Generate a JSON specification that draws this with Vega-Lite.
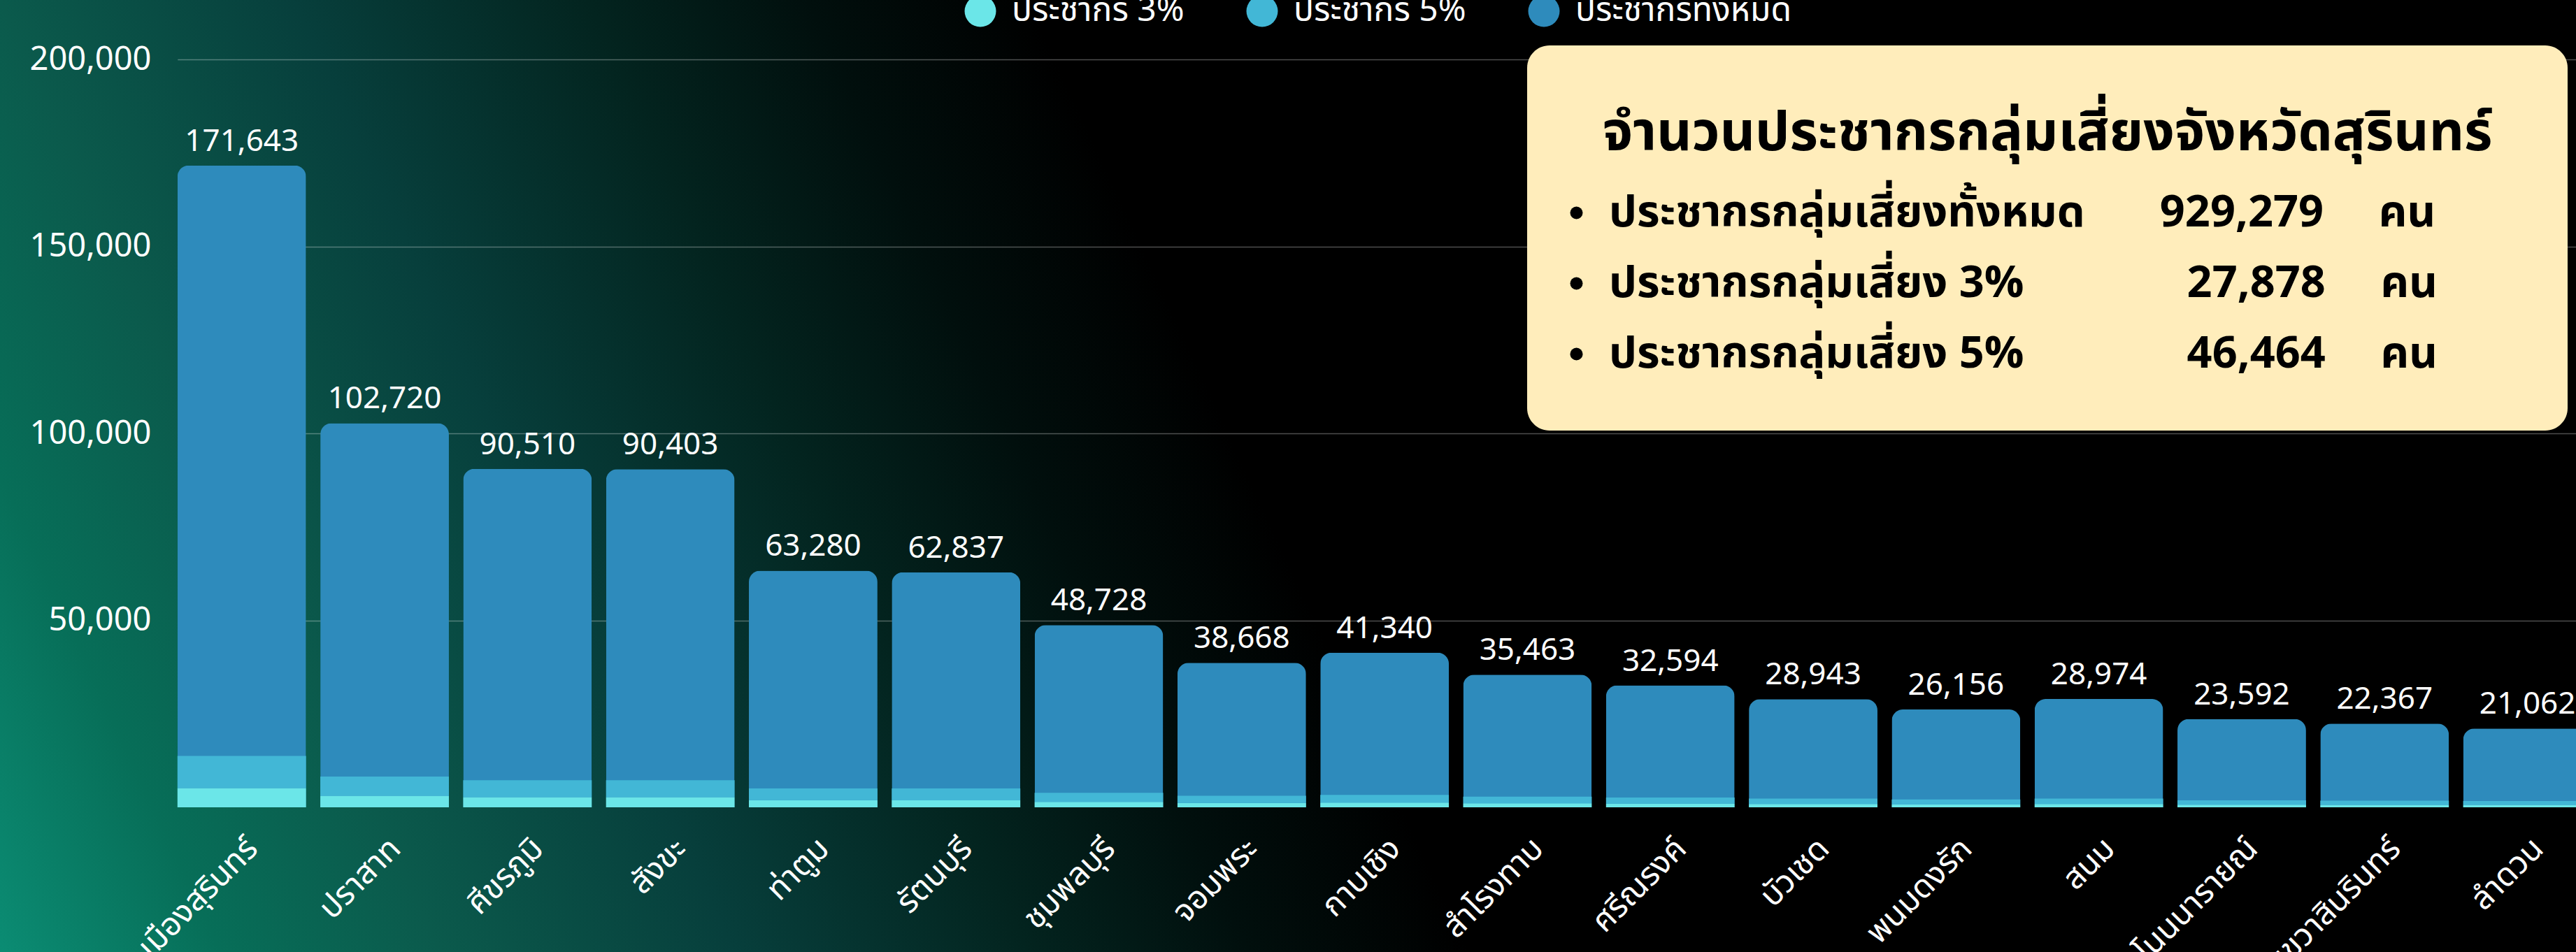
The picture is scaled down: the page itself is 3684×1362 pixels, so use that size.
{
  "$schema": "https://vega.github.io/schema/vega-lite/v6.json",
  "width": 3684,
  "height": 1362,
  "autosize": {"type": "none"},
  "padding": 0,
  "background": "#000000",
  "view": {"stroke": null, "fill": {"gradient": "linear", "x1": 0, "y1": 1, "x2": 0.554, "y2": 0.9053, "stops": [
      {"offset": 0, "color": "#0b8c73"},
      {"offset": 0.15, "color": "#076e58"},
      {"offset": 0.3, "color": "#0b5a4c"},
      {"offset": 0.5, "color": "#073f3c"},
      {"offset": 0.7, "color": "#03241f"},
      {"offset": 0.85, "color": "#010f0d"},
      {"offset": 1, "color": "#000000"}
    ]}},
  "data": {"values": [
    {"district": "เมืองสุรินทร์", "total": 171643, "ประชากร 3%": 5149, "ประชากร 5%": 8582},
    {"district": "ปราสาท", "total": 102720, "ประชากร 3%": 3082, "ประชากร 5%": 5136},
    {"district": "ศีขรภูมิ", "total": 90510, "ประชากร 3%": 2715, "ประชากร 5%": 4526},
    {"district": "สังขะ", "total": 90403, "ประชากร 3%": 2712, "ประชากร 5%": 4520},
    {"district": "ท่าตูม", "total": 63280, "ประชากร 3%": 1898, "ประชากร 5%": 3164},
    {"district": "รัตนบุรี", "total": 62837, "ประชากร 3%": 1885, "ประชากร 5%": 3142},
    {"district": "ชุมพลบุรี", "total": 48728, "ประชากร 3%": 1462, "ประชากร 5%": 2436},
    {"district": "จอมพระ", "total": 38668, "ประชากร 3%": 1160, "ประชากร 5%": 1933},
    {"district": "กาบเชิง", "total": 41340, "ประชากร 3%": 1240, "ประชากร 5%": 2067},
    {"district": "สำโรงทาบ", "total": 35463, "ประชากร 3%": 1064, "ประชากร 5%": 1773},
    {"district": "ศรีณรงค์", "total": 32594, "ประชากร 3%": 978, "ประชากร 5%": 1630},
    {"district": "บัวเชด", "total": 28943, "ประชากร 3%": 868, "ประชากร 5%": 1447},
    {"district": "พนมดงรัก", "total": 26156, "ประชากร 3%": 785, "ประชากร 5%": 1308},
    {"district": "สนม", "total": 28974, "ประชากร 3%": 869, "ประชากร 5%": 1449},
    {"district": "โนนนารายณ์", "total": 23592, "ประชากร 3%": 708, "ประชากร 5%": 1180},
    {"district": "เขวาสินรินทร์", "total": 22367, "ประชากร 3%": 671, "ประชากร 5%": 1118},
    {"district": "ลำดวน", "total": 21062, "ประชากร 3%": 632, "ประชากร 5%": 1053}
  ]},
  "layer": [
    {
      "mark": {"type": "bar", "cornerRadiusTopLeft": 16, "cornerRadiusTopRight": 16},
      "encoding": {
        "x": {"field": "district", "type": "nominal", "sort": null,
          "scale": {"range": [253.8, 3706.5], "paddingInner": 0.1, "paddingOuter": 0},
          "axis": {"title": null, "offset": -207, "domain": false, "ticks": false, "labelAngle": -45, "labelAlign": "right", "labelBaseline": "top", "labelPadding": 36, "labelFontSize": 46, "labelColor": "#ffffff", "labelFont": "Noto Sans Thai, Noto Sans, sans-serif", "labelLimit": 600, "grid": false}},
        "y": {"field": "total", "type": "quantitative",
          "scale": {"domain": [0, 200000], "range": [1155, 85], "nice": false},
          "axis": {"title": null, "values": [50000, 100000, 150000, 200000], "labelExpr": "format(datum.value, ',')", "offset": -254, "domain": false, "ticks": false, "labelPadding": 38, "labelFontSize": 47, "labelColor": "#ffffff", "labelFont": "Noto Sans", "grid": true, "gridColor": "#ffffff", "gridOpacity": 0.3, "gridWidth": 1.5}},
        "color": {"datum": "ประชากรทั้งหมด", "type": "nominal",
          "scale": {"domain": ["ประชากร 3%", "ประชากร 5%", "ประชากรทั้งหมด"], "range": ["#6be6e8", "#42b7d6", "#2e8bbc"]},
          "legend": {"title": null, "orient": "none", "legendX": 1378, "legendY": -24, "direction": "horizontal", "columns": 3, "gridAlign": "all", "columnPadding": 24, "symbolType": "circle", "symbolSize": 2025, "symbolStrokeWidth": 0, "labelFontSize": 48, "labelColor": "#ffffff", "labelFont": "Noto Sans Thai, Noto Sans, sans-serif", "labelOffset": 21, "labelLimit": 600, "padding": 0}}
      }
    },
    {
      "transform": [{"fold": ["ประชากร 3%", "ประชากร 5%"], "as": ["key", "value"]}],
      "mark": {"type": "bar"},
      "encoding": {
        "x": {"field": "district", "type": "nominal", "sort": null},
        "y": {"field": "value", "type": "quantitative", "stack": "zero"},
        "color": {"field": "key", "type": "nominal"},
        "order": {"field": "key", "type": "nominal", "sort": "ascending"}
      }
    },
    {
      "mark": {"type": "text", "baseline": "alphabetic", "dy": -21, "fontSize": 44, "color": "#ffffff", "font": "Noto Sans"},
      "encoding": {
        "x": {"field": "district", "type": "nominal", "sort": null},
        "y": {"field": "total", "type": "quantitative"},
        "text": {"field": "total", "type": "quantitative", "format": ","}
      }
    },
    {
      "data": {"values": [
        {"item": "ประชากรกลุ่มเสี่ยงทั้งหมด\u2003\u2002\u2009929,279\u2003\u2005คน\u2003\u2800"},
        {"item": "ประชากรกลุ่มเสี่ยง 3%\u2003\u2003\u2003\u2002\u200927,878\u2003\u2005คน\u2003\u2800"},
        {"item": "ประชากรกลุ่มเสี่ยง 5%\u2003\u2003\u2003\u2002\u200946,464\u2003\u2005คน\u2003\u2800"}
      ]},
      "mark": {"type": "point", "filled": true, "color": "#000000", "size": 0},
      "encoding": {
        "shape": {"field": "item", "type": "nominal", "sort": null,
          "scale": {"range": ["circle", "circle", "circle"]},
          "legend": {"title": ["\u2800", "จำนวนประชากรกลุ่มเสี่ยงจังหวัดสุรินทร์"], "orient": "none", "legendX": 2184, "legendY": 65, "fillColor": "#ffedbb", "cornerRadius": 32, "padding": 77, "titleFontSize": 78, "titleLineHeight": 11, "titleFont": "Noto Sans Thai, Noto Sans, sans-serif", "titleFontWeight": "bold", "titleColor": "#000000", "titleAnchor": "middle", "titlePadding": 42, "titleLimit": 2000, "symbolType": "circle", "symbolSize": 324, "symbolOffset": -38, "symbolFillColor": "#000000", "symbolStrokeColor": "#000000", "symbolStrokeWidth": 0, "symbolOpacity": 1, "labelFontSize": 63, "labelFont": "Noto Sans Thai, Noto Sans, sans-serif", "labelFontWeight": "bold", "labelColor": "#000000", "labelOffset": 15, "labelLimit": 2000, "rowPadding": 37}}
      }
    }
  ]
}
